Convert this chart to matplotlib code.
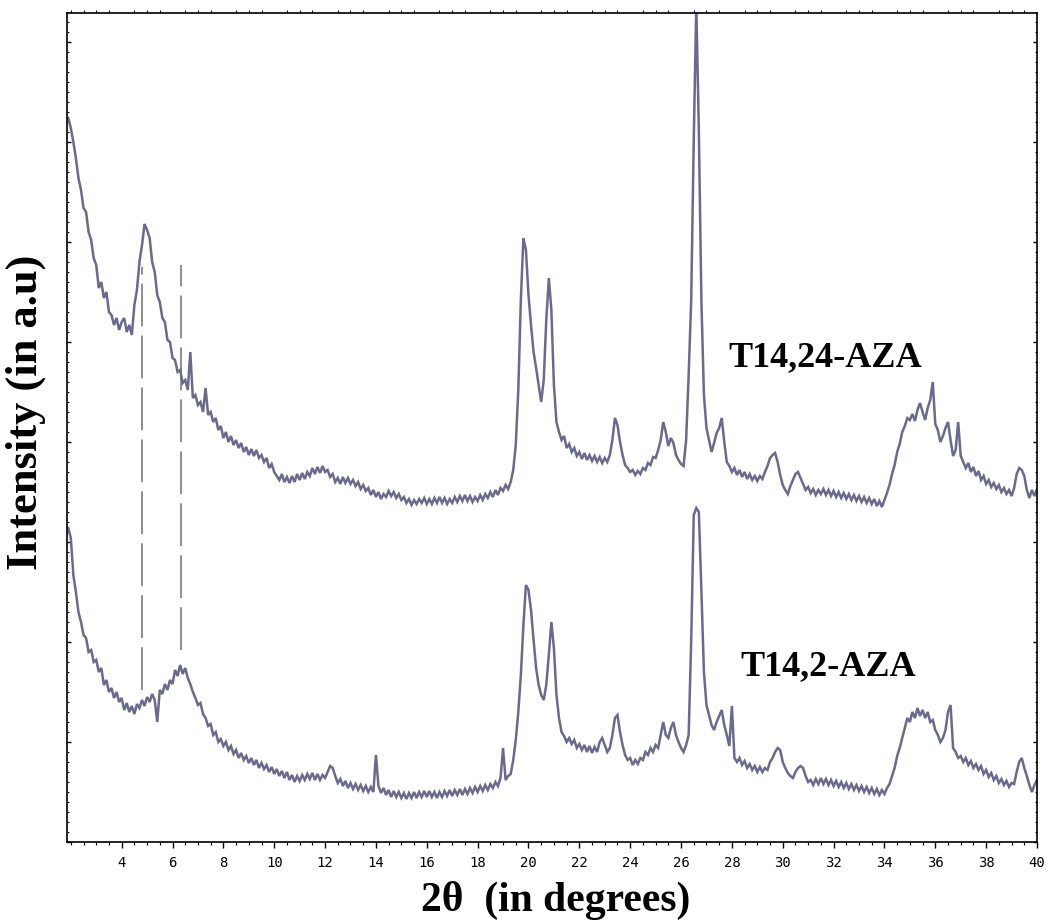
import numpy as np
import matplotlib
matplotlib.use("Agg")
import matplotlib.pyplot as plt
from matplotlib.ticker import MultipleLocator, NullFormatter

# 2-theta grid: 1.9 .. 40.0 deg, step 0.1
two_theta_start = 1.9
two_theta_step = 0.1

# Intensity (a.u.)
t14_24_aza = [724, 714,
    700, 684, 664, 652, 634, 630, 610, 602, 584, 577,
    554, 560, 544, 550, 530, 527, 517, 524, 512, 520,
    524, 510, 517, 507, 537, 552, 580, 597, 618, 612,
    604, 580, 570, 547, 540, 524, 520, 502, 500, 484,
    482, 470, 472, 459, 462, 452, 490, 444, 447, 437,
    440, 430, 454, 427, 430, 420, 424, 412, 416, 404,
    410, 400, 406, 397, 402, 394, 399, 390, 395, 387,
    393, 386, 392, 384, 387, 380, 384, 374, 378, 370,
    366, 362, 368, 360, 365, 359, 366, 360, 368, 362,
    369, 363, 370, 366, 374, 368, 375, 369, 376, 370,
    372, 365, 368, 360, 364, 358, 365, 359, 364, 358,
    362, 356, 360, 353, 357, 351, 354, 347, 352, 345,
    350, 343, 348, 345, 351, 346, 350, 344, 348, 342,
    345, 339, 343, 337, 342, 338, 343, 339, 344, 338,
    343, 338, 344, 339, 345, 339, 344, 338, 343, 339,
    345, 340, 346, 341, 347, 341, 346, 340, 345, 341,
    347, 342, 348, 344, 350, 345, 352, 347, 354, 351,
    357, 353, 360, 372, 397, 452, 542, 604, 592, 547,
    517, 490, 474, 457, 440, 462, 522, 564, 532, 457,
    420, 410, 402, 406, 394, 398, 390, 394, 386, 390,
    383, 389, 382, 387, 381, 386, 380, 385, 379, 384,
    380, 387, 402, 424, 417, 400, 387, 377, 374, 370,
    372, 367, 371, 368, 374, 372, 379, 377, 385, 384,
    392, 402, 420, 410, 396, 404, 399, 387, 382, 378,
    376, 402, 467, 542, 702, 837, 712, 542, 447, 414,
    402, 390, 399, 409, 414, 424, 400, 380, 376, 370,
    374, 367, 372, 365, 370, 363, 368, 362, 366, 361,
    366, 363, 370, 376, 384, 387, 389, 380, 367, 357,
    352, 348, 356, 362, 368, 370, 364, 358, 352, 355,
    349, 353, 347, 352, 348, 353, 347, 352, 346, 351,
    345, 350, 344, 349, 343, 348, 342, 347, 341, 346,
    340, 345, 339, 344, 338, 343, 336, 341, 335, 342,
    349, 357, 368, 377, 390, 398, 410, 416, 424, 422,
    428, 421, 432, 439, 430, 422, 434, 442, 460, 418,
    412, 400, 406, 414, 420, 402, 386, 392, 420, 386,
    380, 374, 379, 370, 375, 366, 371, 362, 366, 358,
    362, 355, 359, 353, 357, 350, 354, 348, 352, 346,
    354, 368, 374, 372, 366, 352, 344, 352, 346, 353]

t14_2_aza = [314, 304,
    267, 250, 230, 220, 207, 204, 190, 192, 180, 182,
    170, 174, 157, 162, 150, 154, 144, 150, 140, 144,
    132, 139, 130, 136, 128, 138, 134, 142, 136, 145,
    140, 148, 142, 120, 152, 148, 158, 152, 162, 158,
    172, 166, 177, 168, 174, 164, 158, 150, 144, 137,
    139, 128, 124, 116, 118, 107, 110, 100, 103, 96,
    100, 92, 96, 88, 92, 84, 89, 82, 86, 79,
    84, 77, 82, 74, 79, 73, 77, 70, 75, 68,
    73, 66, 71, 64, 70, 62, 67, 60, 66, 61,
    67, 62, 68, 63, 69, 62, 68, 62, 67, 64,
    70, 76, 74, 66, 59, 63, 56, 61, 54, 59,
    53, 58, 52, 57, 51, 56, 50, 55, 50, 87,
    56, 49, 54, 47, 52, 45, 51, 45, 50, 44,
    49, 43, 49, 44, 50, 44, 50, 45, 51, 45,
    51, 45, 50, 44, 50, 45, 51, 46, 52, 46,
    52, 47, 53, 47, 53, 48, 54, 49, 55, 50,
    56, 51, 57, 52, 58, 54, 60, 56, 64, 94,
    62, 66, 68, 82, 102, 130, 167, 217, 257, 252,
    232, 202, 174, 157, 147, 142, 157, 187, 220, 194,
    147, 124, 110, 106, 100, 104, 98, 102, 94, 98,
    92, 97, 90, 96, 89, 95, 90, 100, 104, 97,
    90, 94, 107, 124, 127, 110, 97, 87, 82, 84,
    77, 82, 78, 84, 82, 90, 87, 94, 90, 97,
    94, 107, 120, 107, 104, 114, 120, 107, 100, 94,
    90, 97, 107, 202, 327, 334, 330, 252, 170, 137,
    127, 117, 112, 120, 126, 132, 117, 107, 96, 136,
    84, 80, 84, 77, 81, 74, 78, 72, 76, 70,
    75, 70, 74, 72, 80, 84, 90, 94, 92, 80,
    74, 69, 66, 64, 70, 74, 76, 74, 66, 60,
    62, 57, 63, 58, 64, 58, 63, 57, 62, 56,
    61, 55, 60, 54, 59, 53, 58, 52, 57, 51,
    56, 50, 55, 49, 54, 48, 53, 47, 52, 48,
    54, 58, 66, 74, 86, 94, 104, 114, 124, 120,
    130, 124, 134, 126, 132, 124, 130, 120, 122, 112,
    107, 100, 104, 112, 130, 137, 94, 90, 84, 86,
    80, 84, 77, 81, 74, 78, 72, 76, 68, 72,
    65, 69, 62, 66, 59, 63, 57, 61, 55, 59,
    58, 70, 80, 84, 74, 66, 57, 50, 57, 62]

# Reference lines (2theta, intensity from, intensity to)
ref_line_pos = [4.8, 6.35]
ref_line_low = [152, 192]
ref_line_high = [575, 577]

series_labels = ["T14,24-AZA", "T14,2-AZA"]
label_pos = [(31.67, 484), (31.8, 175)]

x_ticks = list(range(4, 41, 2))

trace_color = "#6a6a8e"

fig = plt.figure(figsize=(10.48, 9.24), dpi=100)
ax = fig.add_axes([67 / 1048, (924 - 842) / 924, (1037 - 67) / 1048, (842 - 13) / 924])

x1 = two_theta_start + two_theta_step * np.arange(len(t14_24_aza))
x2 = two_theta_start + two_theta_step * np.arange(len(t14_2_aza))
ax.plot(x1, t14_24_aza, color=trace_color, lw=1.8, solid_joinstyle="miter")
ax.plot(x2, t14_2_aza, color=trace_color, lw=1.8, solid_joinstyle="miter")

for xp, lo, hi in zip(ref_line_pos, ref_line_low, ref_line_high):
    ax.plot([xp, xp], [lo, hi], color="#707070", lw=1.1, linestyle=(0, (28, 6)))

for lab, (lx, ly) in zip(series_labels, label_pos):
    ax.text(lx, ly, lab, ha="center", va="center", fontsize=26, fontweight="bold",
            family="Liberation Serif", color="black")

ax.set_xlim(1.85, 40.0)
ax.set_ylim(0, 829)
ax.set_xticks(x_ticks)
ax.xaxis.set_minor_locator(MultipleLocator(0.5))
ax.yaxis.set_major_locator(MultipleLocator(100))
ax.yaxis.set_minor_locator(MultipleLocator(10))
ax.yaxis.set_major_formatter(NullFormatter())
ax.tick_params(axis="x", which="major", direction="out", length=4, width=1.0,
               labelsize=10, pad=6, top=False)
ax.tick_params(axis="x", which="minor", direction="out", length=2, width=0.8, top=True)
ax.tick_params(axis="y", which="major", direction="in", length=3, width=1.0, right=True)
ax.tick_params(axis="y", which="minor", direction="in", length=1.5, width=0.8, right=True)
for lbl in ax.get_xticklabels():
    lbl.set_family("DejaVu Sans Mono")
for sp in ax.spines.values():
    sp.set_linewidth(1.2)

fig.text(26 / 1048, (924 - 412) / 924, "Intensity (in a.u)", rotation=90, ha="center",
         va="center", fontsize=32, fontweight="bold", family="Liberation Serif")
fig.text(556 / 1048, (924 - 900) / 924, "2\u03b8  (in degrees)", ha="center", va="center",
         fontsize=30, fontweight="bold", family="Liberation Serif")

fig.savefig("out.png", dpi=100, facecolor="white")
